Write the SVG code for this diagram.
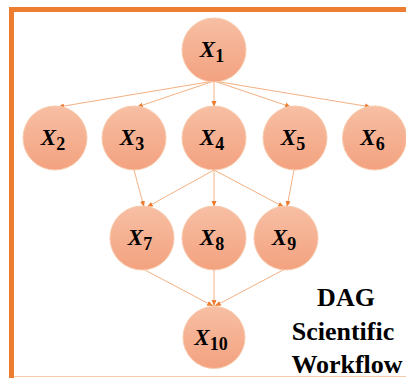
<svg xmlns="http://www.w3.org/2000/svg" width="406" height="378" viewBox="0 0 406 378">
<defs>
<linearGradient id="g" x1="0" y1="0" x2="0" y2="1">
<stop offset="0" stop-color="#F7BFA4"/>
<stop offset="1" stop-color="#F3A27F"/>
</linearGradient>
<marker id="ah" markerUnits="userSpaceOnUse" markerWidth="7" markerHeight="6" refX="6" refY="3" orient="auto">
<path d="M0,0.5 L6,3 L0,5.5 Z" fill="#ED7D31"/>
</marker>
<style>
.n circle{fill:url(#g);stroke:#F8CBAD;stroke-width:1}
.n text{font-family:"Liberation Serif","DejaVu Serif",serif;font-weight:bold;font-size:23px;fill:#000;text-anchor:middle}
.n .v{font-style:italic}
.n .s{font-size:18px}
#edges line{stroke:#F4B183;stroke-width:1;marker-end:url(#ah)}
.t{font-family:"Liberation Serif","Times New Roman",serif;font-weight:bold;font-size:26px;fill:#000;text-anchor:middle}
</style>
</defs>
<rect width="406" height="378" fill="#fff"/>
<path d="M11.5,378 V9.5 H406" fill="none" stroke="#ED7D31" stroke-width="5"/>
<line x1="14" y1="376.5" x2="406" y2="376.5" stroke="#F8CBAD" stroke-width="1"/>
<g id="edges">
<line x1="214" y1="81" x2="58" y2="107"/>
<line x1="214" y1="81" x2="137" y2="107"/>
<line x1="214" y1="81" x2="214" y2="107"/>
<line x1="214" y1="81" x2="291" y2="107"/>
<line x1="214" y1="81" x2="371" y2="107"/>
<line x1="134" y1="170" x2="144" y2="207"/>
<line x1="214" y1="170" x2="147" y2="207"/>
<line x1="214" y1="170" x2="214" y2="207"/>
<line x1="214" y1="170" x2="284" y2="207"/>
<line x1="294" y1="170" x2="287" y2="207"/>
<line x1="143" y1="269" x2="213" y2="306"/>
<line x1="214" y1="269" x2="214" y2="306"/>
<line x1="285" y1="269" x2="215" y2="306"/>
</g>
<g id="x1" class="n"><circle cx="214" cy="50" r="32"/><text x="212" y="57"><tspan class="v">X</tspan><tspan class="s" dy="5">1</tspan></text></g>
<g id="x2" class="n"><circle cx="55" cy="138" r="32"/><text x="53" y="145"><tspan class="v">X</tspan><tspan class="s" dy="5">2</tspan></text></g>
<g id="x3" class="n"><circle cx="134" cy="138" r="32"/><text x="132" y="145"><tspan class="v">X</tspan><tspan class="s" dy="5">3</tspan></text></g>
<g id="x4" class="n"><circle cx="214" cy="138" r="32"/><text x="212" y="145"><tspan class="v">X</tspan><tspan class="s" dy="5">4</tspan></text></g>
<g id="x5" class="n"><circle cx="295" cy="138" r="32"/><text x="293" y="145"><tspan class="v">X</tspan><tspan class="s" dy="5">5</tspan></text></g>
<g id="x6" class="n"><circle cx="374.5" cy="138" r="32"/><text x="372.5" y="145"><tspan class="v">X</tspan><tspan class="s" dy="5">6</tspan></text></g>
<g id="x7" class="n"><circle cx="142" cy="238" r="32"/><text x="140" y="245"><tspan class="v">X</tspan><tspan class="s" dy="5">7</tspan></text></g>
<g id="x8" class="n"><circle cx="214" cy="238" r="32"/><text x="212" y="245"><tspan class="v">X</tspan><tspan class="s" dy="5">8</tspan></text></g>
<g id="x9" class="n"><circle cx="286" cy="238" r="32"/><text x="284" y="245"><tspan class="v">X</tspan><tspan class="s" dy="5">9</tspan></text></g>
<g id="x10" class="n"><circle cx="214" cy="337.5" r="31"/><text x="211" y="345"><tspan class="v">X</tspan><tspan class="s" dy="5">10</tspan></text></g>
<g id="label">
<text class="t" x="346" y="306">DAG</text>
<text class="t" x="343" y="340">Scientific</text>
<text class="t" x="347" y="373">Workflow</text>
</g>
</svg>
